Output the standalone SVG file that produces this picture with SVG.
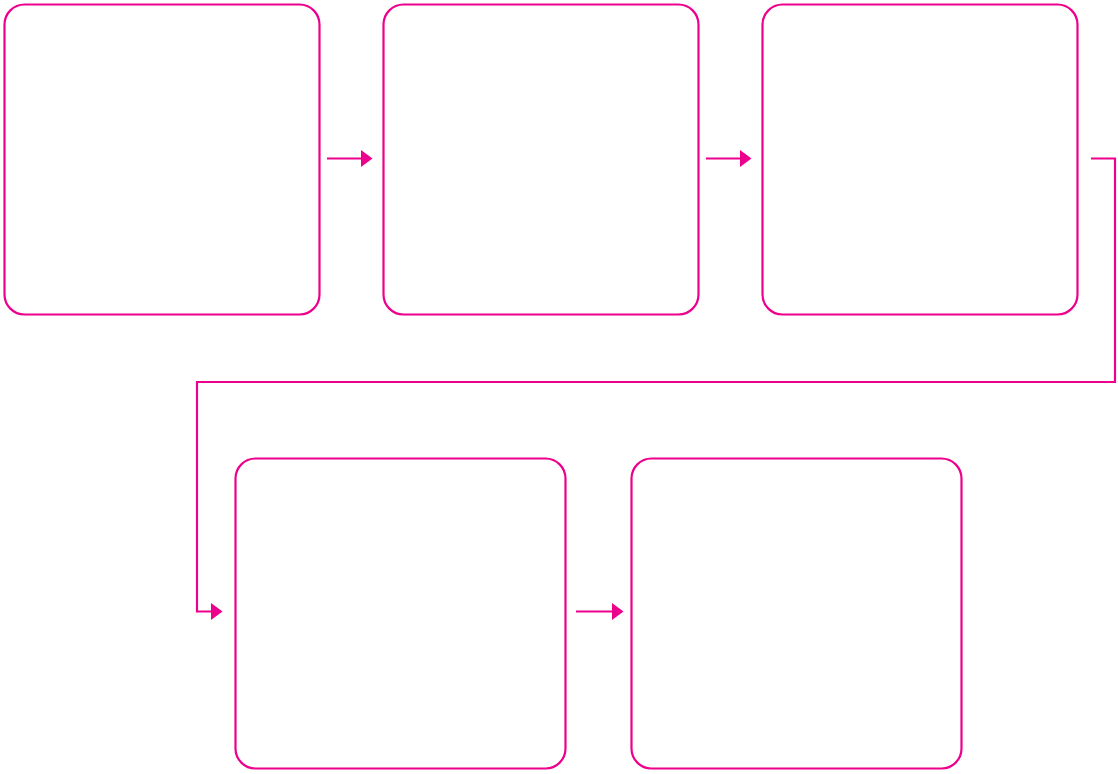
<svg xmlns="http://www.w3.org/2000/svg" width="1118" height="774" viewBox="0 0 1118 774">
<style>
.box{fill:#fff;stroke:#EC008C;stroke-width:2.2}
.conn{fill:none;stroke:#EC008C;stroke-width:2.2}
.head{fill:#EC008C}
</style>
<rect width="1118" height="774" fill="#fff"/>
<g id="node1"><rect class="box" x="4.5" y="4.5" width="315" height="310" rx="20"/></g>
<g id="node2"><rect class="box" x="383.5" y="4.5" width="315" height="310" rx="20"/></g>
<g id="node3"><rect class="box" x="762.5" y="4.5" width="315" height="310" rx="20"/></g>
<g id="node4"><rect class="box" x="235.5" y="458.5" width="330" height="310" rx="20"/></g>
<g id="node5"><rect class="box" x="631.5" y="458.5" width="330" height="310" rx="20"/></g>
<g id="connectors">
<path class="conn" d="M327 158.5H362"/>
<polygon class="head" points="361,150 372.5,158.5 361,167"/>
<path class="conn" d="M706 158.5H741"/>
<polygon class="head" points="740,150 751.5,158.5 740,167"/>
<path class="conn" d="M1091 158.5H1115V382H197V611.5H212"/>
<polygon class="head" points="211,603 222.5,611.5 211,620"/>
<path class="conn" d="M576 611.5H613"/>
<polygon class="head" points="612,603 623.5,611.5 612,620"/>
</g>
</svg>
